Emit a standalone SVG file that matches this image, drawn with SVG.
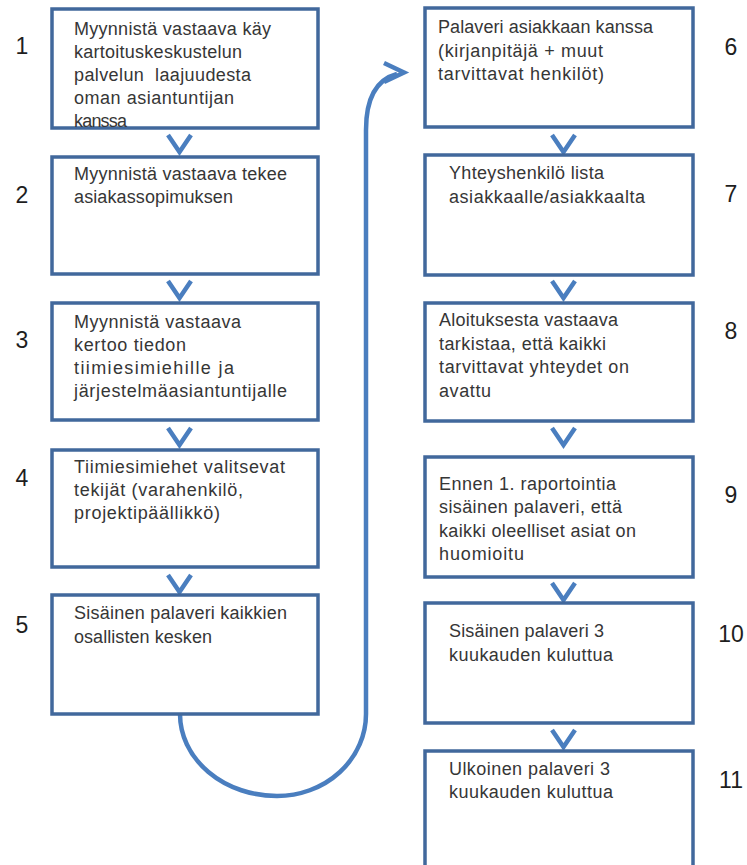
<svg xmlns="http://www.w3.org/2000/svg" width="747" height="865" viewBox="0 0 747 865">
  <style>
    .box { fill: #ffffff; stroke: #41689c; stroke-width: 3.5; }
    .lbl { font-family: "Liberation Sans", Arial, sans-serif; font-size: 18px; fill: #363636; white-space: pre; }
    .num { font-family: "Liberation Sans", Arial, sans-serif; font-size: 23px; fill: #1e1e1e; text-anchor: middle; }
    .chev { fill: none; stroke: #4a7ebf; stroke-width: 4.5; stroke-linejoin: miter; stroke-linecap: butt; }
    .flow { fill: none; stroke: #4a7ebf; stroke-width: 4.5; }
  </style>
  <rect x="0" y="0" width="747" height="865" fill="#ffffff"/>

  <!-- connectors: chevrons between steps and the loop from step 5 to step 6 -->
  <g id="connectors">
    <path class="chev" d="M168,135 L179.5,152 L191,135"/>
    <path class="chev" d="M168,281 L179.5,298 L191,281"/>
    <path class="chev" d="M168,428 L179.5,445 L191,428"/>
    <path class="chev" d="M168,575 L179.5,592 L191,575"/>

    <path class="chev" d="M552,135 L563.5,152 L575,135"/>
    <path class="chev" d="M552,281 L563.5,298 L575,281"/>
    <path class="chev" d="M552,428 L563.5,445 L575,428"/>
    <path class="chev" d="M552,583 L563.5,600 L575,583"/>
    <path class="chev" d="M552,730 L563.5,747 L575,730"/>

    <path class="flow" d="M180,714 A97,82 0 0 0 277,796 A89,82 0 0 0 366,714 L366,130 C366,100 375,80 397,74"/>
    <path class="chev" d="M384,63 L404,72.5 L384,82"/>
  </g>

  <!-- left column -->
  <g id="step1">
    <rect class="box" x="52" y="9" width="266" height="119"/>
    <text class="lbl" x="74" y="35" textLength="197">Myynnistä vastaava käy</text>
    <text class="lbl" x="74" y="58" textLength="168">kartoituskeskustelun</text>
    <text class="lbl" x="74" y="81" textLength="177">palvelun  laajuudesta</text>
    <text class="lbl" x="74" y="104" textLength="160">oman asiantuntijan</text>
    <text class="lbl" x="74" y="127" textLength="53">kanssa</text>
    <text class="num" x="22" y="54">1</text>
  </g>
  <g id="step2">
    <rect class="box" x="52" y="157" width="266" height="117"/>
    <text class="lbl" x="74" y="180" textLength="213">Myynnistä vastaava tekee</text>
    <text class="lbl" x="74" y="203" textLength="159">asiakassopimuksen</text>
    <text class="num" x="22" y="203">2</text>
  </g>
  <g id="step3">
    <rect class="box" x="52" y="303" width="266" height="117"/>
    <text class="lbl" x="74" y="328" textLength="167">Myynnistä vastaava</text>
    <text class="lbl" x="74" y="351" textLength="112">kertoo tiedon</text>
    <text class="lbl" x="74" y="374" textLength="160">tiimiesimiehille ja</text>
    <text class="lbl" x="74" y="397" textLength="213">järjestelmäasiantuntijalle</text>
    <text class="num" x="22" y="348">3</text>
  </g>
  <g id="step4">
    <rect class="box" x="52" y="450" width="266" height="117"/>
    <text class="lbl" x="74" y="473" textLength="211">Tiimiesimiehet valitsevat</text>
    <text class="lbl" x="74" y="496" textLength="169">tekijät (varahenkilö,</text>
    <text class="lbl" x="74" y="519" textLength="146">projektipäällikkö)</text>
    <text class="num" x="22" y="486">4</text>
  </g>
  <g id="step5">
    <rect class="box" x="52" y="595" width="266" height="119"/>
    <text class="lbl" x="74" y="619" textLength="213">Sisäinen palaveri kaikkien</text>
    <text class="lbl" x="74" y="643" textLength="138">osallisten kesken</text>
    <text class="num" x="22" y="633">5</text>
  </g>

  <!-- right column -->
  <g id="step6">
    <rect class="box" x="425" y="8" width="268" height="119"/>
    <text class="lbl" x="438" y="33" textLength="215">Palaveri asiakkaan kanssa</text>
    <text class="lbl" x="438" y="57" textLength="165">(kirjanpitäjä + muut</text>
    <text class="lbl" x="438" y="80" textLength="166">tarvittavat henkilöt)</text>
    <text class="num" x="731" y="55">6</text>
  </g>
  <g id="step7">
    <rect class="box" x="425" y="155" width="268" height="120"/>
    <text class="lbl" x="449" y="179" textLength="155">Yhteyshenkilö lista</text>
    <text class="lbl" x="449" y="203" textLength="196">asiakkaalle/asiakkaalta</text>
    <text class="num" x="731" y="202">7</text>
  </g>
  <g id="step8">
    <rect class="box" x="425" y="303" width="268" height="118"/>
    <text class="lbl" x="439" y="326" textLength="179">Aloituksesta vastaava</text>
    <text class="lbl" x="439" y="350" textLength="167">tarkistaa, että kaikki</text>
    <text class="lbl" x="439" y="373" textLength="190">tarvittavat yhteydet on</text>
    <text class="lbl" x="439" y="397" textLength="52">avattu</text>
    <text class="num" x="731" y="339">8</text>
  </g>
  <g id="step9">
    <rect class="box" x="425" y="457" width="268" height="120"/>
    <text class="lbl" x="439" y="490" textLength="177">Ennen 1. raportointia</text>
    <text class="lbl" x="439" y="513" textLength="183">sisäinen palaveri, että</text>
    <text class="lbl" x="439" y="537" textLength="197">kaikki oleelliset asiat on</text>
    <text class="lbl" x="439" y="560" textLength="85">huomioitu</text>
    <text class="num" x="731" y="503">9</text>
  </g>
  <g id="step10">
    <rect class="box" x="425" y="603" width="268" height="120"/>
    <text class="lbl" x="449" y="637" textLength="155">Sisäinen palaveri 3</text>
    <text class="lbl" x="449" y="661" textLength="164">kuukauden kuluttua</text>
    <text class="num" x="731" y="642">10</text>
  </g>
  <g id="step11">
    <rect class="box" x="425" y="751" width="268" height="130"/>
    <text class="lbl" x="449" y="775" textLength="161">Ulkoinen palaveri 3</text>
    <text class="lbl" x="449" y="798" textLength="164">kuukauden kuluttua</text>
    <text class="num" x="731" y="788">11</text>
  </g>
</svg>
